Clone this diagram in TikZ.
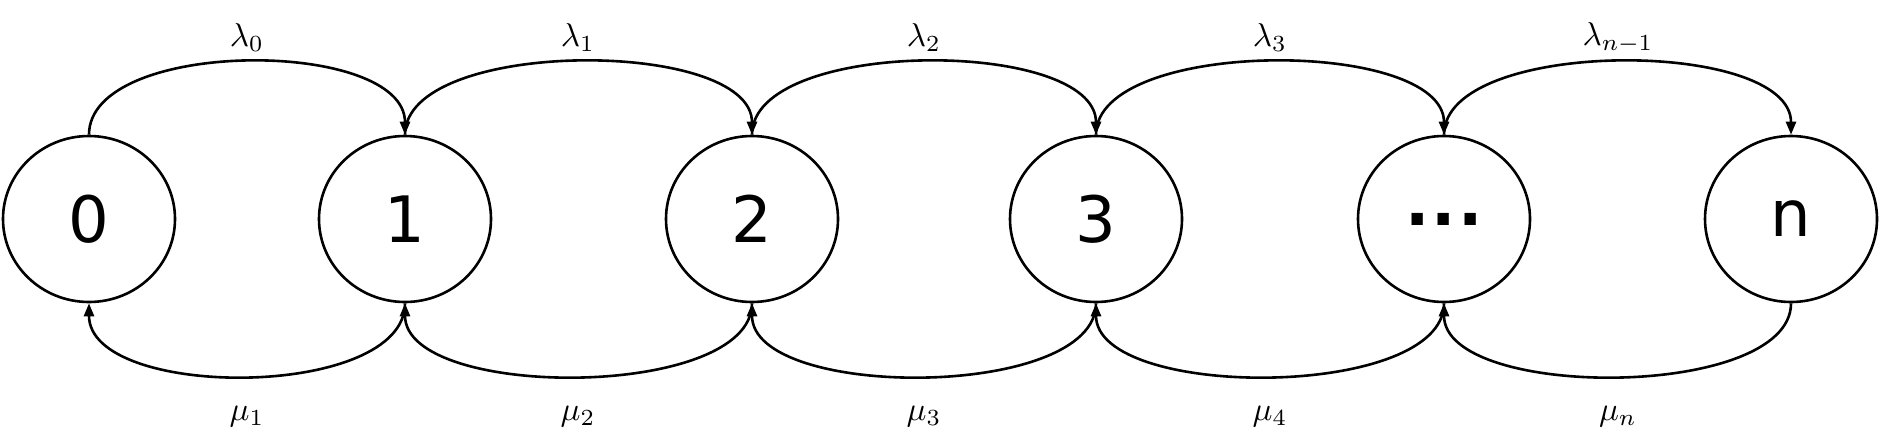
\documentclass[tikz,border=0pt]{standalone}
\usepackage{graphicx}
\usepackage{fontspec}
\newfontfamily\nodefont{DejaVu Sans}
\usetikzlibrary{shapes.geometric,arrows.meta}
\newcommand{\biglab}[1]{\scalebox{3.3}{$#1$}}
\begin{document}
\begin{tikzpicture}[x=1pt,y=-1pt,
  state/.style={ellipse,draw,line width=2.6pt,minimum width=172pt,minimum height=166pt,inner sep=0pt,
    font=\nodefont\fontsize{64}{70}\selectfont},
  arr/.style={line width=2.6pt,-{Triangle[length=13pt,width=10pt]}},
  lab/.style={inner sep=0pt}]
\useasboundingbox (0,0) rectangle (1879,442);
\node[state] (s0) at (89,219) {0};
\node[state] (s1) at (405,219) {1};
\node[state] (s2) at (752,219) {2};
\node[state] (s3) at (1096,219) {3};
\node[state] (sd) at (1444,219) {\bfseries .\kern2pt.\kern2pt.};
\node[state] (sn) at (1791,219) {n};
% top arcs
\draw[arr] (s0.north) .. controls +(0,-97) and +(0,-97) .. (s1.north);
\draw[arr] (s1.north) .. controls +(0,-97) and +(0,-97) .. (s2.north);
\draw[arr] (s2.north) .. controls +(0,-97) and +(0,-97) .. (s3.north);
\draw[arr] (s3.north) .. controls +(0,-97) and +(0,-97) .. (sd.north);
\draw[arr] (sd.north) .. controls +(0,-97) and +(0,-97) .. (sn.north);
% bottom arcs
\draw[arr] (s1.south) .. controls +(0,97) and +(0,97) .. (s0.south);
\draw[arr] (s2.south) .. controls +(0,97) and +(0,97) .. (s1.south);
\draw[arr] (s3.south) .. controls +(0,97) and +(0,97) .. (s2.south);
\draw[arr] (sd.south) .. controls +(0,97) and +(0,97) .. (s3.south);
\draw[arr] (sn.south) .. controls +(0,97) and +(0,97) .. (sd.south);
% labels
\node[lab] (l0) at (247,38) {\biglab{\lambda_0}};
\node[lab] (l1) at (578,38) {\biglab{\lambda_1}};
\node[lab] (l2) at (924,38) {\biglab{\lambda_2}};
\node[lab] (l3) at (1270,38) {\biglab{\lambda_3}};
\node[lab] (l4) at (1618,38) {\biglab{\lambda_{n-1}}};
\node[lab] (m1) at (247,417) {\biglab{\mu_1}};
\node[lab] (m2) at (578,417) {\biglab{\mu_2}};
\node[lab] (m3) at (924,417) {\biglab{\mu_3}};
\node[lab] (m4) at (1270,417) {\biglab{\mu_4}};
\node[lab] (m5) at (1618,417) {\biglab{\mu_n}};
\end{tikzpicture}
\end{document}
